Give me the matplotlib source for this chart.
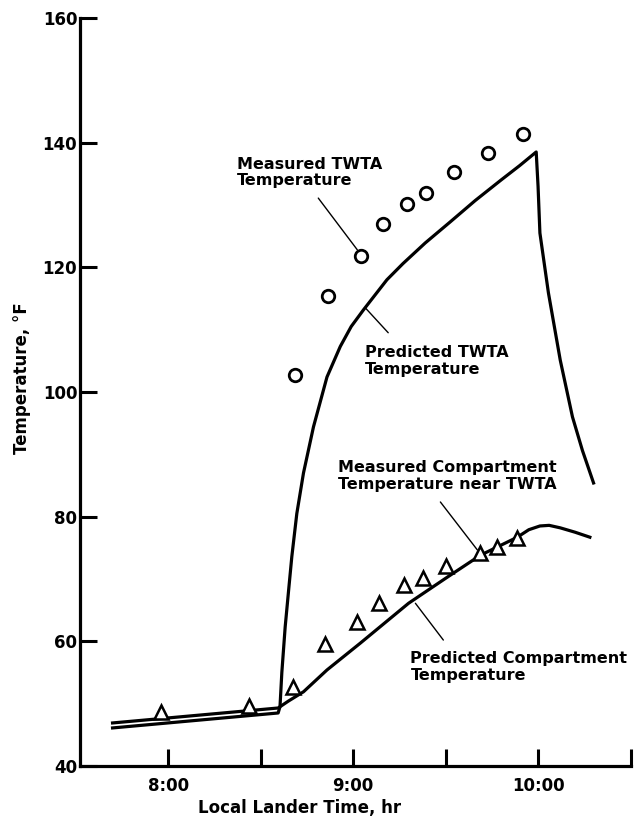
import numpy as np
import matplotlib
matplotlib.use("Agg")
import matplotlib.pyplot as plt

plt.rcParams['font.family'] = ['DejaVu Sans']
plt.rcParams['font.weight'] = 'bold'

# predicted curves (time in decimal hours, temperature in deg F)
twta_pred_t = [7.70, 8.595, 8.605, 8.615, 8.633, 8.652, 8.669, 8.696, 8.732, 8.786,
               8.859, 8.931, 8.99, 9.057, 9.183, 9.27, 9.39, 9.526, 9.66, 9.80,
               9.90, 9.99, 10.0, 10.01, 10.056, 10.12, 10.186, 10.24, 10.30]
twta_pred_T = [46.1, 48.5, 49.5, 55.0, 62.3, 68.3, 73.6, 80.5, 87.0, 94.4,
               102.4, 107.3, 110.5, 113.2, 118.0, 120.6, 123.9, 127.3, 130.7, 134.0,
               136.3, 138.5, 133.0, 125.5, 115.9, 105.1, 96.0, 90.6, 85.4]

comp_pred_t = [7.70, 8.595, 8.65, 8.732, 8.859, 9.039, 9.30, 9.5, 9.688, 9.888,
               9.95, 10.01, 10.06, 10.12, 10.2, 10.28]
comp_pred_T = [46.9, 49.3, 50.4, 51.9, 55.4, 59.7, 66.1, 70.1, 73.8, 76.7,
               77.9, 78.5, 78.6, 78.2, 77.5, 76.7]

# measured points
twta_meas_t = [8.687, 8.866, 9.044, 9.163, 9.293, 9.396, 9.548, 9.732, 9.916]
twta_meas_T = [102.7, 115.4, 121.8, 127.0, 130.2, 131.9, 135.3, 138.3, 141.4]

comp_meas_t = [7.962, 8.438, 8.676, 8.85, 9.023, 9.142, 9.277, 9.380, 9.504,
               9.688, 9.78, 9.888]
comp_meas_T = [48.7, 49.6, 52.7, 59.6, 63.1, 66.1, 69.0, 70.2, 72.1,
               74.2, 75.1, 76.6]

x_major = [8.0, 9.0, 10.0]
x_major_labels = ['8:00', '9:00', '10:00']
x_minor = [8.5, 9.5, 10.5]
y_ticks = [40, 60, 80, 100, 120, 140, 160]

fig = plt.figure(figsize=(6.35, 8.27), dpi=100)
ax = fig.add_axes([0.126, 0.0738, 0.867, 0.9045])

lw = 2.3
ax.plot(twta_pred_t, twta_pred_T, color='black', lw=lw, solid_joinstyle='round')
ax.plot(comp_pred_t, comp_pred_T, color='black', lw=lw, solid_joinstyle='round')
ax.plot(twta_meas_t, twta_meas_T, linestyle='none', marker='o', ms=9,
        mfc='white', mec='black', mew=2.0)
ax.plot(comp_meas_t, comp_meas_T, linestyle='none', marker='^', ms=10,
        mfc='white', mec='black', mew=1.8)

ax.set_xlim(7.524, 10.5)
ax.set_ylim(40, 160)

for s in ['top', 'right']:
    ax.spines[s].set_visible(False)
for s in ['left', 'bottom']:
    ax.spines[s].set_linewidth(2.3)

ax.set_xticks(x_major)
ax.set_xticklabels(x_major_labels)
ax.set_xticks(x_minor, minor=True)
ax.set_yticks(y_ticks)
ax.tick_params(axis='both', which='both', direction='in', length=12, width=2.2,
               labelsize=12)
ax.tick_params(axis='x', which='both', pad=8)
ax.tick_params(axis='y', pad=2)
for lab in ax.get_xticklabels() + ax.get_yticklabels():
    lab.set_fontweight('bold')

fig.text(22 / 635, 1 - 378 / 827, 'Temperature, °F', rotation=90,
         ha='center', va='center', fontsize=12, fontweight='bold')
fig.text(300 / 635, 1 - 808 / 827, 'Local Lander Time, hr',
         ha='center', va='center', fontsize=12, fontweight='bold')

# callout labels with leader lines
lead = dict(arrowstyle='-', color='black', lw=1.0, shrinkA=0, shrinkB=0)
notes = [
    ('Measured TWTA\nTemperature', (8.373, 135.2), (8.812, 131.1), (9.023, 122.8)),
    ('Predicted TWTA\nTemperature', (9.066, 105.0), (9.19, 109.5), (9.066, 113.5)),
    ('Measured Compartment\nTemperature near TWTA', (8.92, 86.5), (9.472, 82.35), (9.672, 74.65)),
    ('Predicted Compartment\nTemperature', (9.31, 55.9), (9.488, 60.2), (9.337, 66.1)),
]
for txt, pos, p0, p1 in notes:
    ax.text(pos[0], pos[1], txt, ha='left', va='center', fontsize=11.5,
            fontweight='bold', linespacing=1.15)
    ax.annotate('', xy=p1, xytext=p0, arrowprops=lead)

fig.savefig('out.png', dpi=100)
